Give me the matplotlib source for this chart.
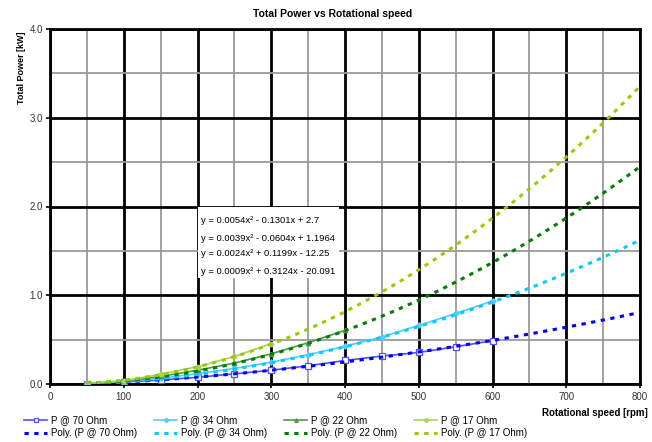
import numpy as np
import matplotlib
matplotlib.use("Agg")
import matplotlib.pyplot as plt
from matplotlib.ticker import MultipleLocator, FormatStrFormatter

plt.rcParams['font.family'] = ['Liberation Sans', 'DejaVu Sans']

# Measured total power [kW] per load resistance
rpm_17 = [50, 100, 150, 200, 250, 300]
p_17 = [0.01, 0.035, 0.11, 0.195, 0.31, 0.455]

rpm_22 = [50, 100, 150, 200, 250, 300, 350, 400]
p_22 = [0.008, 0.032, 0.085, 0.155, 0.235, 0.34, 0.465, 0.605]

rpm_34 = [50, 100, 150, 200, 250, 300, 350, 400, 450, 500, 550, 600]
p_34 = [0.005, 0.028, 0.065, 0.115, 0.175, 0.245, 0.33, 0.425, 0.53, 0.66, 0.795, 0.935]

rpm_70 = [50, 100, 150, 200, 250, 300, 350, 400, 450, 500, 550, 600]
p_70 = [0.004, 0.022, 0.045, 0.075, 0.115, 0.155, 0.205, 0.265, 0.315, 0.355, 0.42, 0.488]

# Quadratic trendline coefficients (a, b, c) in W, x in rpm
coef_17 = [0.0054, -0.1301, 2.7]
coef_22 = [0.0039, -0.0604, 1.1964]
coef_34 = [0.0024, 0.1199, -12.25]
coef_70 = [0.0009, 0.3124, -20.091]

trend_range = [50, 800]

fig = plt.figure(figsize=(6.52, 4.42), dpi=100)
W, H = 652, 442
ax = fig.add_axes([50 / W, (H - 384) / H, 590 / W, 355 / H])

ax.set_xlim(0, 800)
ax.set_ylim(0, 4)
ax.xaxis.set_major_locator(MultipleLocator(100))
ax.xaxis.set_minor_locator(MultipleLocator(50))
ax.yaxis.set_major_locator(MultipleLocator(1.0))
ax.yaxis.set_minor_locator(MultipleLocator(0.5))
ax.yaxis.set_major_formatter(FormatStrFormatter('%.1f'))
ax.grid(which='minor', color='#9a9a9a', lw=1.3, zorder=0)
ax.grid(which='major', color='black', lw=2.0, zorder=0)
ax.set_axisbelow(True)
for s in ax.spines.values():
    s.set_linewidth(2.0)
    s.set_color('black')
ax.tick_params(which='major', direction='out', length=3, width=1.2,
               labelsize=7, labelcolor='#333333', pad=2)
ax.tick_params(axis='x', which='major', pad=3)
ax.tick_params(which='minor', length=0)

series = [
    ("70", rpm_70, p_70, coef_70, '#5050ff', '#0000ff', 's', 'white', 4.0),
    ("34", rpm_34, p_34, coef_34, '#55ccff', '#00ccff', 'D', None, 2.8),
    ("22", rpm_22, p_22, coef_22, '#4a9a4a', '#008000', '^', None, 3.2),
    ("17", rpm_17, p_17, coef_17, '#aad45a', '#99cc00', 'o', None, 3.2),
]

handles = []
dot_style = (0, (1.4, 1.8))
for name, xs, ys, coef, lc, tc, mk, mfc, ms in series:
    xt = np.linspace(trend_range[0], trend_range[1], 200)
    yt = np.polyval(coef, xt) / 1000.0
    h_data, = ax.plot(xs, ys, color=lc, lw=1.2, marker=mk, ms=ms,
                      mfc=(mfc if mfc else lc), mec=lc, mew=0.9,
                      label=f"P @ {name} Ohm", zorder=3)
    h_trend, = ax.plot(xt, yt, color=tc, lw=2.2, linestyle=dot_style,
                       label=f"Poly. (P @ {name} Ohm)", zorder=4)
    handles.append((h_data, h_trend))

# Trendline equations on a white label box
def equation(coef):
    a, b, c = coef
    sb = '-' if b < 0 else '+'
    sc = '-' if c < 0 else '+'
    return f"y = {a:g}x\u00b2 {sb} {abs(b):g}x {sc} {abs(c):g}"

ax.fill_between([201, 392], 1.19, 1.99, color='white', zorder=1, lw=0)
eq_y = [1.84, 1.645, 1.475, 1.27]
for coef, yy in zip([coef_17, coef_22, coef_34, coef_70], eq_y):
    ax.text(205, yy, equation(coef), fontsize=6.8, color='black',
            va='center', ha='left', zorder=6)

fig.text(333 / W, 1 - 14 / H, "Total Power vs Rotational speed",
         ha='center', va='center', fontsize=7.5, fontweight='bold')
fig.text(22 / W, 1 - 31 / H, "Total Power [kW]", rotation=90,
         ha='center', va='top', fontsize=6.5, fontweight='bold')
fig.text(648 / W, 1 - 413 / H, "Rotational speed [rpm]",
         ha='right', va='center', fontsize=7, fontweight='bold')

col_x = [24, 154, 284, 414]
for (h_data, h_trend), cx in zip(handles, col_x):
    fig.legend([h_data, h_trend], [h_data.get_label(), h_trend.get_label()],
               loc='upper left', bbox_to_anchor=(cx / W, 1 - 415 / H),
               frameon=False, fontsize=7, handlelength=2.4,
               handletextpad=0.35, labelspacing=0.3, borderpad=0,
               borderaxespad=0, markerscale=0.8)

fig.savefig("out.png", dpi=100)
